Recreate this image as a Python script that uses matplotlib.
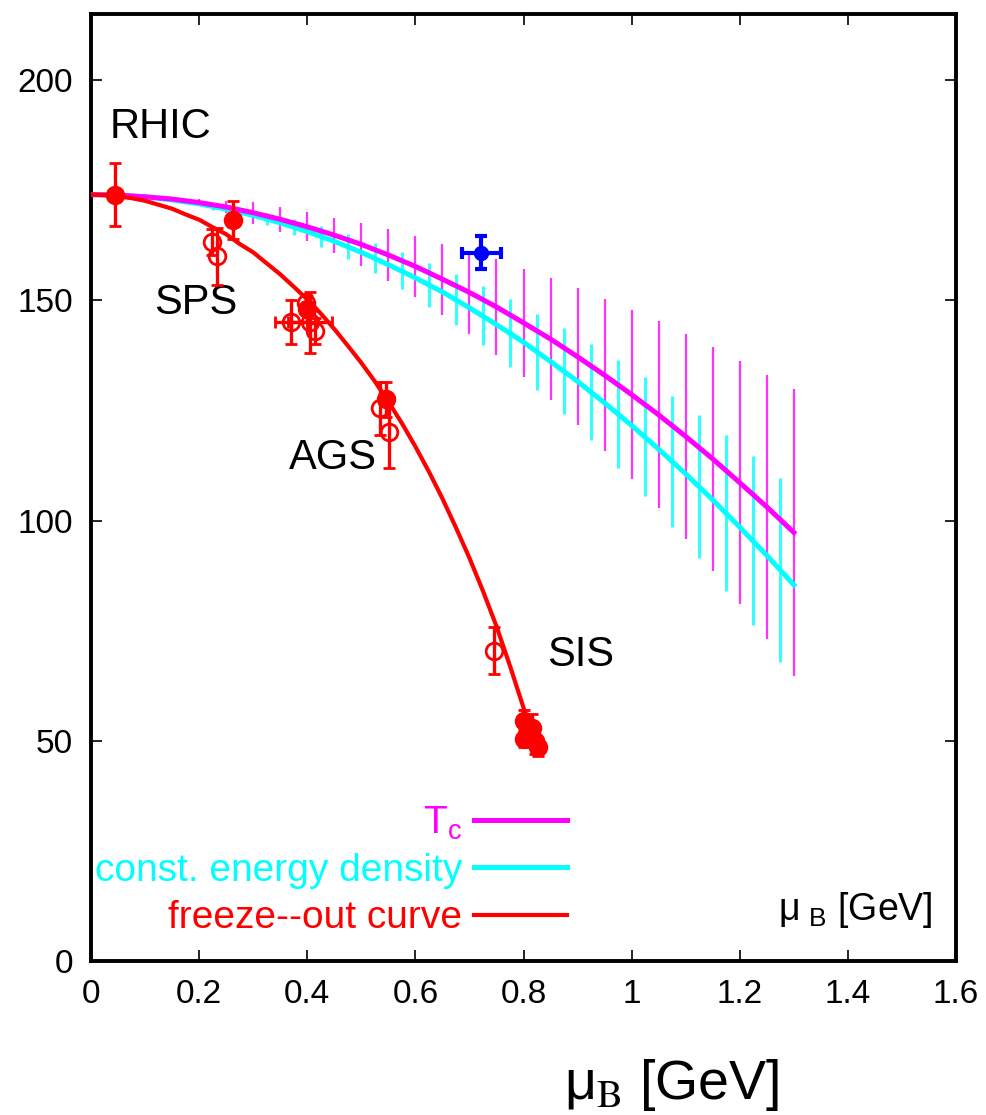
import matplotlib
matplotlib.use("Agg")
import matplotlib.pyplot as plt

plt.rcParams['font.family'] = ['Liberation Sans', 'DejaVu Sans']
plt.rcParams['mathtext.default'] = 'regular'

# theory curves (mu_B in GeV, T in MeV)
mu_grid = [0.0, 0.05, 0.1, 0.15, 0.2, 0.25, 0.3, 0.35, 0.4, 0.45, 0.5, 0.55, 0.6,
           0.65, 0.7, 0.75, 0.8, 0.85, 0.9, 0.95, 1.0, 1.05, 1.1, 1.15, 1.2, 1.25, 1.3]
tc_line = [174.0, 173.9, 173.5, 173.0, 172.2, 171.2, 169.9, 168.4, 166.7, 164.8, 162.7,
           160.3, 157.7, 154.8, 151.8, 148.5, 144.9, 141.2, 137.2, 133.0, 128.6, 124.0,
           119.1, 114.0, 108.6, 103.1, 97.3]
eps_line = [174.0, 173.9, 173.5, 172.8, 171.9, 170.7, 169.3, 167.6, 165.6, 163.4, 160.9,
            158.1, 155.1, 151.9, 148.3, 144.5, 140.5, 136.1, 131.6, 126.7, 121.6, 116.2,
            110.6, 104.7, 98.5, 92.1, 85.4]

# error bars on the T_c band
tc_err = [0.0, 0.05, 0.2, 0.45, 0.8, 1.3, 2.5, 2.8, 3.3, 4.0, 4.8, 5.8, 6.9, 8.1, 9.4,
          10.8, 12.3, 13.9, 15.6, 17.3, 19.2, 21.2, 23.2, 25.4, 27.6, 30.0, 32.5]

# error bars on the constant energy density band (shifted positions)
eps_bar_mu = [0.075, 0.125, 0.175, 0.225, 0.275, 0.325, 0.375, 0.425, 0.475, 0.525,
              0.575, 0.625, 0.675, 0.725, 0.775, 0.825, 0.875, 0.925, 0.975, 1.025,
              1.075, 1.125, 1.175, 1.225, 1.275]
eps_bar_T = [173.7, 173.2, 172.4, 171.3, 170.0, 168.5, 166.6, 164.5, 162.2, 159.6, 156.7,
             153.5, 150.1, 146.5, 142.5, 138.3, 133.9, 129.2, 124.2, 119.0, 113.4, 107.7,
             101.7, 95.4, 88.8]
eps_bar_err = [0.1, 0.2, 0.4, 0.7, 1.0, 1.4, 1.8, 2.3, 2.9, 3.5, 4.2, 5.0, 5.8, 6.7, 7.7,
               8.7, 9.8, 11.0, 12.2, 13.5, 14.8, 16.2, 17.7, 19.2, 20.8]

# freeze-out curve
fo_mu = [0.0, 0.025, 0.05, 0.075, 0.1, 0.125, 0.15, 0.175, 0.2, 0.225, 0.25, 0.275,
         0.3, 0.325, 0.35, 0.375, 0.4, 0.425, 0.45, 0.475, 0.5, 0.525, 0.55, 0.575,
         0.6, 0.625, 0.65, 0.675, 0.7, 0.725, 0.75, 0.775, 0.8, 0.82]
fo_T = [174.0, 173.9, 173.6, 173.2, 172.6, 171.7, 170.8, 169.5, 168.3, 166.6, 165.0,
        162.8, 160.9, 158.4, 155.9, 153.1, 150.2, 147.0, 143.5, 139.7, 135.8, 131.6,
        127.0, 122.1, 116.8, 111.1, 105.0, 98.4, 91.5, 84.0, 76.0, 67.0, 57.5, 49.5]

# freeze-out data points (open symbols)
open_mu = [0.224, 0.233, 0.37, 0.398, 0.405, 0.415, 0.535, 0.552, 0.745]
open_T = [163.3, 160.0, 145.0, 149.5, 145.0, 143.0, 125.5, 120.0, 70.5]
open_xerr = [0.0, 0.0, 0.03, 0.0, 0.04, 0.0, 0.0, 0.0, 0.0]
open_yerr = [3.0, 6.5, 5.0, 2.0, 7.0, 3.0, 6.0, 8.0, 5.3]

# freeze-out data points (filled symbols)
full_mu = [0.044, 0.263, 0.40, 0.545, 0.80, 0.815, 0.80, 0.822, 0.826]
full_T = [174.0, 168.3, 148.0, 127.5, 54.5, 53.0, 50.5, 50.0, 48.5]
full_yerr = [7.2, 4.3, 3.0, 4.0, 2.5, 3.0, 2.0, 3.0, 2.0]

# lattice critical point
cep_mu = [0.722]
cep_T = [160.8]
cep_xerr = [0.036]
cep_yerr = [3.7]

fig = plt.figure(figsize=(9.86, 11.15), dpi=100)
ax = fig.add_axes([0.0923, 0.1381, 0.8773, 0.8493])

# bands
ax.errorbar(mu_grid[1:], tc_line[1:], yerr=tc_err[1:], fmt='none',
            ecolor='#ff33ff', elinewidth=1.6, capsize=0, zorder=1)
ax.errorbar(eps_bar_mu, eps_bar_T, yerr=eps_bar_err, fmt='none',
            ecolor='#33ffff', elinewidth=2.2, capsize=0, zorder=1)

ax.plot(mu_grid, eps_line, color='#00ffff', lw=3.6, zorder=2,
        label='const. energy density')
ax.plot(mu_grid, tc_line, color='#ff00ff', lw=3.6, zorder=3, label='T$_c$')
ax.plot(fo_mu, fo_T, color='#ff0000', lw=3.0, zorder=4, label='freeze--out curve')

ax.errorbar(open_mu, open_T, xerr=open_xerr, yerr=open_yerr, fmt='o', ms=12,
            mfc='none', mec='#ff0000', mew=2, ecolor='#ff0000', elinewidth=2.4,
            capsize=4, capthick=2, zorder=5)
ax.errorbar(full_mu, full_T, yerr=full_yerr, fmt='o', ms=13, color='#ff0000',
            ecolor='#ff0000', elinewidth=2.4, capsize=4, capthick=2, zorder=5)
ax.errorbar(cep_mu, cep_T, xerr=cep_xerr, yerr=cep_yerr, fmt='o', ms=10,
            color='#0000ff', ecolor='#0000ff', elinewidth=3, capsize=4,
            capthick=3, zorder=6)

# experiment labels
ax.text(0.128, 189.3, 'RHIC', fontsize=30, ha='center', va='center')
ax.text(0.194, 149.4, 'SPS', fontsize=30, ha='center', va='center')
ax.text(0.448, 114.2, 'AGS', fontsize=30, ha='center', va='center')
ax.text(0.906, 69.5, 'SIS', fontsize=30, ha='center', va='center')
ax.text(1.414, 11.6, r'$\mu_{\ B}$ [GeV]', fontsize=27, ha='center', va='center')

handles, labels = ax.get_legend_handles_labels()
order = [1, 0, 2]
ax.legend([handles[i] for i in order], [labels[i] for i in order],
          loc='lower right', bbox_to_anchor=(0.881, 5.6),
          bbox_transform=ax.transData, frameon=False, markerfirst=False,
          labelcolor='linecolor', fontsize=28, handlelength=2.4,
          handletextpad=0.3, labelspacing=0.29, borderpad=0, borderaxespad=0)

ax.set_xlim(0, 1.6)
ax.set_ylim(0, 215)
ax.set_xticks([0, 0.2, 0.4, 0.6, 0.8, 1.0, 1.2, 1.4, 1.6])
ax.set_xticklabels(['0', '0.2', '0.4', '0.6', '0.8', '1', '1.2', '1.4', '1.6'])
ax.set_yticks([0, 50, 100, 150, 200])
ax.tick_params(direction='in', length=8, width=1.2, labelsize=24, pad=13,
               top=True, right=True)
for sp in ax.spines.values():
    sp.set_linewidth(2.8)

fig.text(0.6815, 0.027, r'$\mu_{\rm B}$ [GeV]', fontsize=40, ha='center',
         va='center', math_fontfamily='stix')

fig.savefig('out.png', dpi=100)
